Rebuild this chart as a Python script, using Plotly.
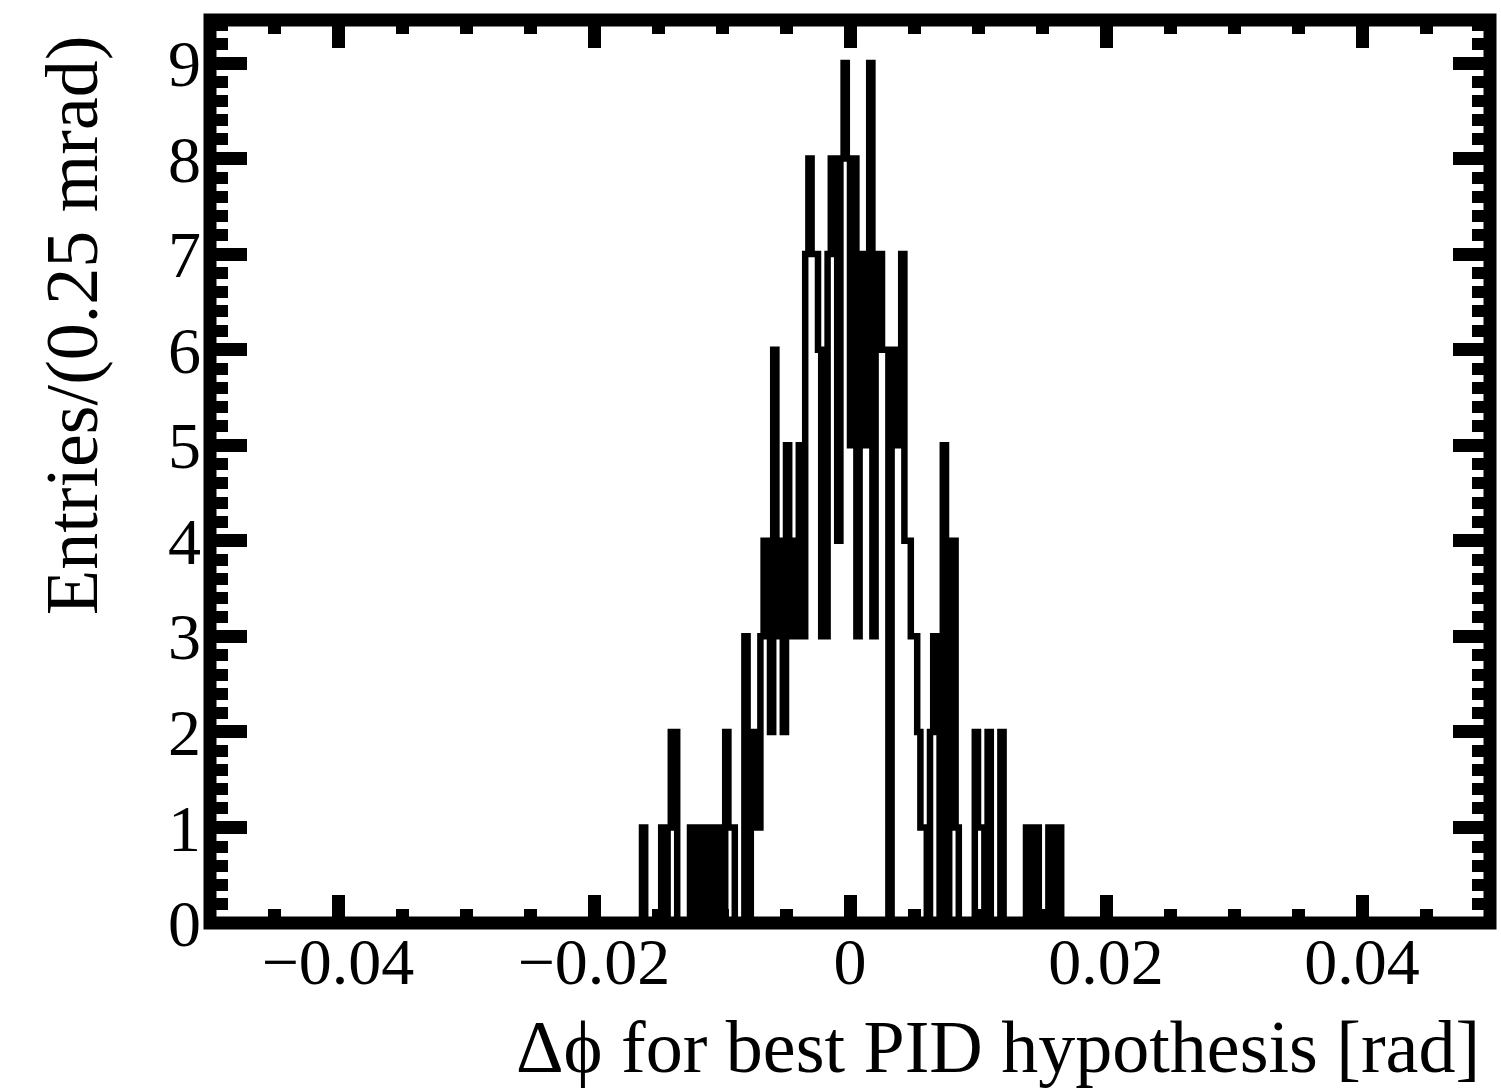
import numpy as np
import plotly.graph_objects as go

# ---- data ----
x_min = -0.05
x_max = 0.05
bin_width = 0.00025          # 0.25 mrad bins
n_bins = 400
first_bin = 135              # index of the first bin listed in `counts`
counts = [
    1, 0, 0, 0, 0, 0, 1, 0, 1, 2, 2, 0, 0, 0, 0, 1, 0, 1, 1, 0,
    1, 1, 0, 1, 1, 0, 2, 1, 1, 0, 0, 0, 3, 0, 2, 2, 1, 3, 4, 3,
    2, 6, 4, 3, 2, 5, 4, 3, 4, 5, 3, 7, 8, 7, 7, 6, 3, 3, 7, 8,
    8, 4, 8, 9, 8, 5, 8, 3, 7, 5, 7, 9, 3, 7, 7, 6, 6, 0, 6, 5,
    5, 7, 4, 4, 3, 3, 2, 1, 1, 0, 2, 3, 3, 0, 5, 0, 4, 4, 1, 0,
    0, 0, 0, 0, 2, 1, 1, 0, 2, 0, 0, 0, 2, 0, 0, 0, 0, 0, 0, 0,
    1, 0, 1, 1, 0, 0, 0, 1, 0, 1, 1,
]
y_max = 9.45
x_tick_step = 0.02
x_minor_step = 0.005
y_tick_step = 1
y_minor_step = 0.2
x_title = "Δϕ for best PID hypothesis [rad]"
y_title = "Entries/(0.25 mrad)"

# ---- build histogram step line ----
values = np.zeros(n_bins)
values[first_bin:first_bin + len(counts)] = counts
edges = x_min + bin_width * np.arange(n_bins + 1)
yvals = np.append(values, values[-1])

FONT = "Liberation Serif, Times New Roman, serif"

fig = go.Figure()
fig.add_trace(go.Scatter(
    x=edges, y=yvals, mode="lines",
    line=dict(color="black", width=6.5, shape="hv", simplify=False),
    hoverinfo="skip", showlegend=False,
))

fig.update_layout(
    width=1501, height=1090,
    margin=dict(l=210, r=11, t=20, b=167, pad=0),
    paper_bgcolor="white", plot_bgcolor="white",
    showlegend=False,
)

fig.update_xaxes(
    range=[x_min, x_max], tick0=0, dtick=x_tick_step,
    ticks="inside", ticklen=28, tickwidth=13, tickcolor="black",
    mirror="ticks", showline=False, showgrid=False, zeroline=False,
    minor=dict(dtick=x_minor_step, tick0=0, ticks="inside", ticklen=14,
               tickwidth=13, tickcolor="black", showgrid=False),
    tickfont=dict(family=FONT, size=66, color="black"),
    ticklabelstandoff=-6,
)
fig.update_yaxes(
    range=[0, y_max], tick0=0, dtick=y_tick_step,
    ticks="inside", ticklen=37, tickwidth=13, tickcolor="black",
    mirror="ticks", showline=False, showgrid=False, zeroline=False,
    minor=dict(dtick=y_minor_step, tick0=0, ticks="inside", ticklen=18,
               tickwidth=12, tickcolor="black", showgrid=False),
    tickfont=dict(family=FONT, size=66, color="black"),
    ticklabelstandoff=8,
)

# frame (ROOT style thick box, centred on the plot-area edges)
fig.add_shape(type="rect", xref="paper", yref="paper", x0=0, x1=1, y0=0, y1=1,
              line=dict(color="black", width=13), fillcolor="rgba(0,0,0,0)", layer="above")

fig.add_annotation(text=x_title, xref="paper", yref="paper",
                   x=(1482 - 210) / 1280, y=(923 - 1047) / 903,
                   xanchor="right", yanchor="middle", showarrow=False,
                   font=dict(family=FONT, size=74, color="black"))
fig.add_annotation(text=y_title, xref="paper", yref="paper", textangle=-90,
                   x=(72 - 210) / 1280, y=(923 - 33) / 903,
                   xanchor="center", yanchor="top", showarrow=False,
                   font=dict(family=FONT, size=74, color="black"))

fig.write_html("out.html")
